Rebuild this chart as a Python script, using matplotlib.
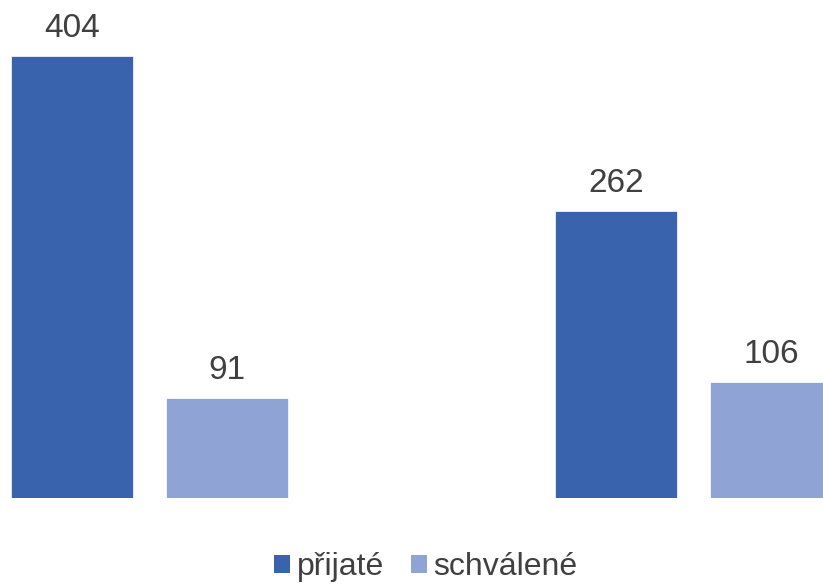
import numpy as np
import matplotlib.pyplot as plt
from matplotlib.patches import Patch

plt.rcParams['font.family'] = ['Liberation Sans', 'DejaVu Sans']

# data
groups = ["A", "B"]
prijate = [404, 262]
schvalene = [91, 106]
series_names = ["přijaté", "schválené"]
colors = ["#3A63AD", "#8FA4D5"]
text_color = "#404040"

fig = plt.figure(figsize=(8.23, 5.85), dpi=100)
ax = fig.add_axes([0, 1 - 498 / 585, 1, 498 / 585])

x = np.arange(len(groups))
w = 0.224
off = 0.1425

b1 = ax.bar(x - off, prijate, w, color=colors[0], edgecolor="white", linewidth=0.5)
b2 = ax.bar(x + off, schvalene, w, color=colors[1], edgecolor="white", linewidth=0.5)

for bars in (b1, b2):
    ax.bar_label(bars, padding=9, fontsize=24, color=text_color)

ax.set_xlim(-0.2748, 1.238)
ax.set_ylim(0, 455.2)
ax.axis("off")

handles = [Patch(facecolor=c, edgecolor="none") for c in colors]
fig.legend(handles, series_names, loc="center", bbox_to_anchor=(426 / 823, 1 - 567 / 585),
           ncol=2, frameon=False, fontsize=23, labelcolor=text_color,
           handlelength=0.5, handleheight=0.5, handletextpad=0.2, columnspacing=0.85)

fig.savefig("out.png", dpi=100)
